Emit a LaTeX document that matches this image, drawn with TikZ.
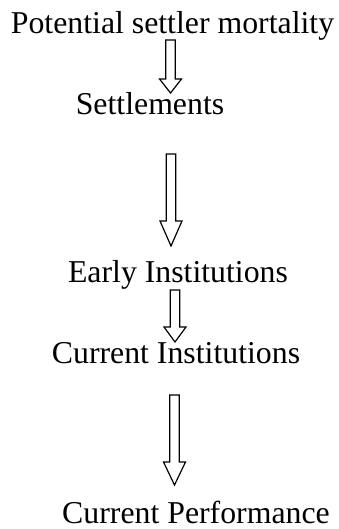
\documentclass[tikz,border=0pt]{standalone}
\usepackage{fontspec}
\setmainfont{Liberation Serif}
\usepackage{tikz}
\usetikzlibrary{calc, positioning}

\tikzstyle{label}    = [inner sep=0pt, anchor=base, font=\fontsize{31.8}{38}\selectfont]
\tikzstyle{hollow}   = [draw=black, line width=1.2pt, fill=white, line join=miter]

% hollow block arrow: top of shaft, tip, head length
\newcommand{\blockarrow}[3]{%
  \draw[hollow] ($(#1)+(-4.8,0)$) -- ($(#2)+(-4.8,-#3)$) -- ($(#2)+(-11,-#3)$)
    -- (#2) -- ($(#2)+(11,-#3)$) -- ($(#2)+(4.8,-#3)$) -- ($(#1)+(4.8,0)$) -- cycle;}

\begin{document}
\begin{tikzpicture}[x=1pt, y=-1pt]
  \useasboundingbox (0,0) rectangle (339,529);

  \node[label] (mort) at (172.5,34)  {Potential settler mortality};
  \node[label] (sett) at (150,115)   {Settlements};
  \node[label] (early) at (178,282)  {Early Institutions};
  \node[label] (curi) at (176,363)   {Current Institutions};
  \node[label] (perf) at (196,523)   {Current Performance};

  \coordinate (a1) at (170.5,40);  \coordinate (t1) at (170.5,93);
  \coordinate (a2) at (171,154);   \coordinate (t2) at (171,246);
  \coordinate (a3) at (175,290);   \coordinate (t3) at (175,342);
  \coordinate (a4) at (174.5,395); \coordinate (t4) at (174.5,485);

  \blockarrow{a1}{t1}{14}
  \blockarrow{a2}{t2}{25}
  \blockarrow{a3}{t3}{15}
  \blockarrow{a4}{t4}{23}
\end{tikzpicture}
\end{document}
